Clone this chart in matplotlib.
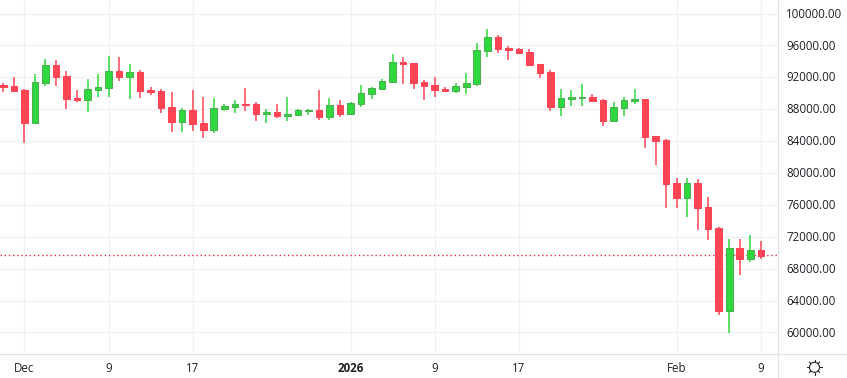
import matplotlib
matplotlib.use("Agg")
import matplotlib.pyplot as plt
import matplotlib.dates as mdates
import numpy as np
import pandas as pd
from matplotlib.lines import Line2D
from matplotlib.patches import Circle
from matplotlib.transforms import IdentityTransform

plt.rcParams['font.family'] = ['Open Sans', 'DejaVu Sans']

dates = pd.date_range("2025-11-29", periods=73, freq="D")

opens = [91040, 90910, 90410, 86270, 91290, 93540, 92170, 89410, 89160, 90410, 90660, 92790, 92040,
         92670, 90350, 90280, 88280, 86400, 87900, 86270, 85390, 88030, 88280, 88650, 88650, 87400,
         87650, 87150, 87270, 87780, 87900, 87020, 88530, 87400, 88650, 89910, 90530, 91410, 93920,
         93800, 91410, 91040, 90530, 90280, 90790, 91160, 95300, 97060, 95680, 95550, 95170, 93670,
         92670, 88280, 89280, 89410, 89530, 89160, 86520, 88150, 89030, 89280, 84640, 84140, 78750,
         76870, 78750, 75740, 73100, 62700, 70600, 69220, 70350]
highs = [91290, 92040, 90530, 92420, 94300, 94170, 92790, 90410, 91790, 92420, 94670, 94550, 93670,
         92920, 90790, 90530, 90160, 88150, 90410, 89530, 89410, 88650, 89160, 90660, 88900, 88030,
         88650, 89530, 88030, 88030, 90410, 89410, 89160, 88900, 91040, 90790, 91790, 94920, 94550,
         93800, 91660, 92040, 90790, 91290, 92540, 96300, 98060, 97310, 95930, 95680, 95550, 93670,
         92920, 90530, 90410, 91160, 89910, 89280, 88900, 89530, 90530, 89280, 84640, 84260, 79370,
         79370, 79250, 76990, 73230, 71720, 71720, 72230, 71470]
lows = [90160, 90280, 83760, 86150, 90910, 90910, 88030, 88900, 87650, 89530, 89530, 91540, 89280,
        89410, 89780, 87520, 85140, 85140, 85270, 84390, 85020, 87780, 87520, 87780, 86520, 86270,
        86900, 86520, 87150, 87270, 86650, 86650, 87020, 87270, 88280, 89280, 90530, 91410, 91160,
        90530, 89160, 89530, 90160, 90030, 89910, 90910, 94550, 95050, 94170, 94920, 93540, 91910,
        87780, 87150, 88400, 88400, 88900, 85890, 86400, 87150, 88650, 83140, 81000, 75610, 75610,
        74480, 72850, 71600, 62190, 59940, 67210, 68840, 69220]
closes = [90790, 90280, 86270, 91410, 93540, 92040, 89280, 89160, 90530, 90790, 92790, 92040, 92670,
          90280, 90160, 88150, 86400, 87900, 86150, 85390, 88150, 88400, 88650, 88530, 87400, 87650,
          87150, 87400, 87900, 87900, 87020, 88530, 87400, 88780, 90030, 90660, 91540, 93920, 93670,
          91290, 90910, 90410, 90280, 90910, 91290, 95430, 97060, 95550, 95430, 95050, 93540, 92540,
          88280, 89410, 89530, 89530, 89030, 86520, 88280, 89160, 89280, 84520, 84010, 78620, 76870,
          78750, 75610, 72980, 62700, 70600, 69220, 70350, 69590]
last_price = 69720
y_ticks = list(range(60000, 100001, 4000))
x_tick_dates = ["2025-12-01", "2025-12-09", "2025-12-17", "2026-01-01", "2026-01-09",
                "2026-01-17", "2026-02-01", "2026-02-09"]
x_tick_labels = ["Dec", "9", "17", "2026", "9", "17", "Feb", "9"]

W, H = 847, 378
PLOT_R, PLOT_B = 777, 353
UP, UP_EDGE = "#2fd83f", "#4caf50"
DOWN = "#ff4455"
GRID = "#f0f0f2"
BORDER = "#e2e2e2"
TEXT = "#1e2026"

fig = plt.figure(figsize=(W / 100, H / 100), dpi=100, facecolor="white")
ax = fig.add_axes([0, 1 - PLOT_B / H, PLOT_R / W, PLOT_B / H])

x = mdates.date2num(dates)
o, h, l, c = map(np.array, (opens, highs, lows, closes))
up = c >= o

x0 = mdates.date2num(pd.Timestamp("2025-12-01"))
day_px = 10.52
ax.set_xlim(x0 - 24.4 / day_px, x0 + (PLOT_R - 24.4) / day_px)
ax.set_ylim(57429, 101695)

tick_x = mdates.date2num(pd.to_datetime(x_tick_dates))
ax.set_xticks(tick_x)
ax.set_yticks(y_ticks)
ax.grid(True, color=GRID, lw=0.9, zorder=0)
ax.set_axisbelow(True)
ax.tick_params(left=False, bottom=False, labelleft=False, labelbottom=False)
for s in ax.spines.values():
    s.set_visible(False)

ax.axhline(last_price, color="#e8303f", lw=1.0, ls=(0, (1, 2)), zorder=1)

colors = np.where(up, UP, DOWN)
ax.vlines(x, l, h, colors=colors, lw=1.1, zorder=2)
ax.bar(x, np.abs(c - o), bottom=np.minimum(o, c), width=0.62,
       color=colors, edgecolor=np.where(up, UP_EDGE, DOWN), linewidth=0.75, zorder=3)

for v in y_ticks:
    ax.annotate(f"{v:.2f}", xy=(1, v), xycoords=("axes fraction", "data"),
                xytext=(786 - PLOT_R, -0.6), textcoords="offset pixels",
                ha="left", va="center", fontsize=8.3, color=TEXT, annotation_clip=False)

for xv, lab in zip(tick_x, x_tick_labels):
    ax.annotate(lab, xy=(xv, 0), xycoords=("data", "axes fraction"),
                xytext=(0, -15.5), textcoords="offset pixels",
                ha="center", va="center", fontsize=8.3, color=TEXT,
                fontweight="bold" if lab == "2026" else "normal", annotation_clip=False)

px = IdentityTransform()
fig.add_artist(Line2D([PLOT_R + .5] * 2, [0, H], color=BORDER, lw=0.9, transform=px))
fig.add_artist(Line2D([0, W], [H - PLOT_B - .5] * 2, color=BORDER, lw=0.9, transform=px))

cx, cy = 814.5, H - 367.3
fig.add_artist(Circle((cx, cy), 5.0, fill=False, ec="#26282e", lw=0.8, transform=px))
for a in np.deg2rad(np.arange(0, 360, 45)):
    fig.add_artist(Line2D([cx + 5.2 * np.cos(a), cx + 7.2 * np.cos(a)],
                          [cy + 5.2 * np.sin(a), cy + 7.2 * np.sin(a)],
                          color="#26282e", lw=0.8, transform=px))

fig.savefig("out.png", dpi=100, facecolor="white")
